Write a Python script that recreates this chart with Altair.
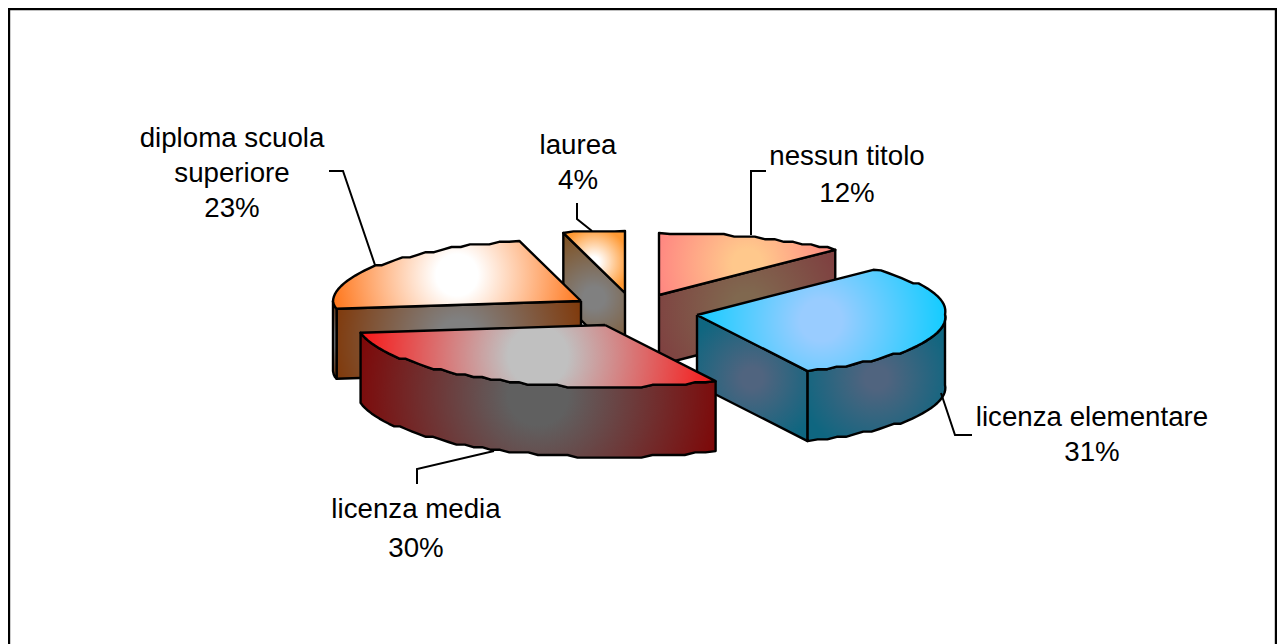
import math
import altair as alt
import pandas as pd

# ---- data
categories = ["nessun titolo", "licenza elementare", "licenza media", "diploma scuola superiore", "laurea"]
shares = [12, 31, 30, 23, 4]
label_lines = [["nessun titolo", "12%"], ["licenza elementare", "31%"], ["licenza media", "30%"],
               ["diploma scuola", "superiore", "23%"], ["laurea", "4%"]]

# ---- layout and style (page pixels)
W, H = 1269, 636
OX, OY = 8, 8
RX, RY, DEPTH = 248, 62, 70
SKEW = 6.5
apex = [(659, 295), (697, 315), (605, 325), (581, 301), (625, 293)]
top_colors = [("#FFC88C", "#FF8080"), ("#99CCFF", "#00CCFF"), ("#C0C0C0", "#FF0000"),
              ("#FFFFFF", "#FF6600"), ("#FFFFFF", "#FF9933")]
side_colors = [("#80684F", "#7F4040"), ("#50647F", "#0F6680"), ("#606060", "#800000"),
               ("#808080", "#803300"), ("#808080", "#804D19")]
label_pos = [(847, [165, 202]), (1092, [426, 461]), (416, [518, 557]), (232, [147, 182, 217]), (578, [154, 189])]
leaders = [[(766, 171), (751, 171), (751, 235)],
           [(972, 435), (955, 435), (941, 393)],
           [(417, 484), (417, 469), (494, 451)],
           [(329, 171), (343, 171), (375, 265)],
           [(577, 203), (577, 219), (592, 231)]]
draw_order = [0, 4, 3, 1, 2]

x_scale = alt.Scale(domain=[0, W], range=[0, W], nice=False, zero=False)
y_scale = alt.Scale(domain=[0, H], range=[0, H], nice=False, zero=False)
X = alt.X("x:Q", scale=x_scale, axis=None)
Y = alt.Y("y:Q", scale=y_scale, axis=None)


def rim_point(cx, cy, deg):
    t = math.radians(deg)
    skew = SKEW * abs(math.sin(2 * t)) if deg < 270 else 0
    return cx + RX * math.sin(t) + skew, cy - RY * math.cos(t)


def rim(cx, cy, a, b, dy=0):
    n = max(2, int(abs(b - a) / 2.5) + 1)
    pts = []
    for i in range(n + 1):
        px, py = rim_point(cx, cy, a + (b - a) * i / n)
        py += dy
        if 0 < i < n:
            py = round(py / 2.6) * 2.6
        pts.append((px, py))
    return pts


def grad(c):
    return alt.Gradient(gradient="radial", x1=0.5, y1=0.5, x2=0.5, y2=0.5, r1=0, r2=0.56,
                        stops=[alt.GradientStop(color=c[0], offset=0.0),
                               alt.GradientStop(color=c[0], offset=0.15),
                               alt.GradientStop(color=c[1], offset=1.0)])


def poly(pts, c):
    pts = list(pts) + [pts[0]]
    df = pd.DataFrame({"x": [p[0] - OX for p in pts], "y": [p[1] - OY for p in pts], "i": range(len(pts))})
    return alt.Chart(df).mark_line(fill=grad(c), stroke="#000000", strokeWidth=2.4, strokeJoin="round",
                                   interpolate="linear", clip=False).encode(x=X, y=Y, order="i:Q")


def path(pts, width=2):
    df = pd.DataFrame({"x": [p[0] - OX for p in pts], "y": [p[1] - OY for p in pts], "i": range(len(pts))})
    return alt.Chart(df).mark_line(stroke="#000000", strokeWidth=width, strokeJoin="miter").encode(x=X, y=Y, order="i:Q")


angles = []
acc = 0
for s in shares:
    angles.append((acc * 3.6, (acc + s) * 3.6))
    acc += s

# the page keeps the picture inside x < 1277, so the right edge of the frame sits at that limit
layers = [path([(1276, 700), (1276, 9), (9, 9), (9, 700)], 2.4)]

for k in draw_order:
    a, b = angles[k]
    cx, cy = apex[k]
    # radial walls that face the viewer
    for ang, normal in ((a, a - 90), (b, b + 90)):
        if math.cos(math.radians(normal)) < -1e-6:
            ex, ey = rim_point(cx, cy, ang)
            layers.append(poly([(cx, cy), (ex, ey), (ex, ey + DEPTH), (cx, cy + DEPTH)], side_colors[k]))
    # outer wall, front half only
    lo, hi = max(a, 90), min(b, 270)
    if lo < hi:
        up = rim(cx, cy, lo, hi)
        down = rim(cx, cy, lo, hi, DEPTH)
        layers.append(poly(up + down[::-1], side_colors[k]))
    # top face
    layers.append(poly([(cx, cy)] + rim(cx, cy, a, b), top_colors[k]))

for lead in leaders:
    layers.append(path(lead, 2))

rows = []
for (lx, ys), lines in zip(label_pos, label_lines):
    for ly, line in zip(ys, lines):
        rows.append({"x": lx - OX, "y": ly - OY, "t": line})
layers.append(alt.Chart(pd.DataFrame(rows)).mark_text(
    font="Liberation Sans", fontSize=27.7, color="#000000", align="center", baseline="alphabetic"
).encode(x=X, y=Y, text="t:N"))

chart = alt.layer(*layers).properties(
    width=W, height=H, padding=0, autosize=alt.AutoSizeParams(type="none"), background="#FFFFFF"
).configure_view(stroke=None)

chart.save("out.html", embed_options={"renderer": "svg", "actions": False})
